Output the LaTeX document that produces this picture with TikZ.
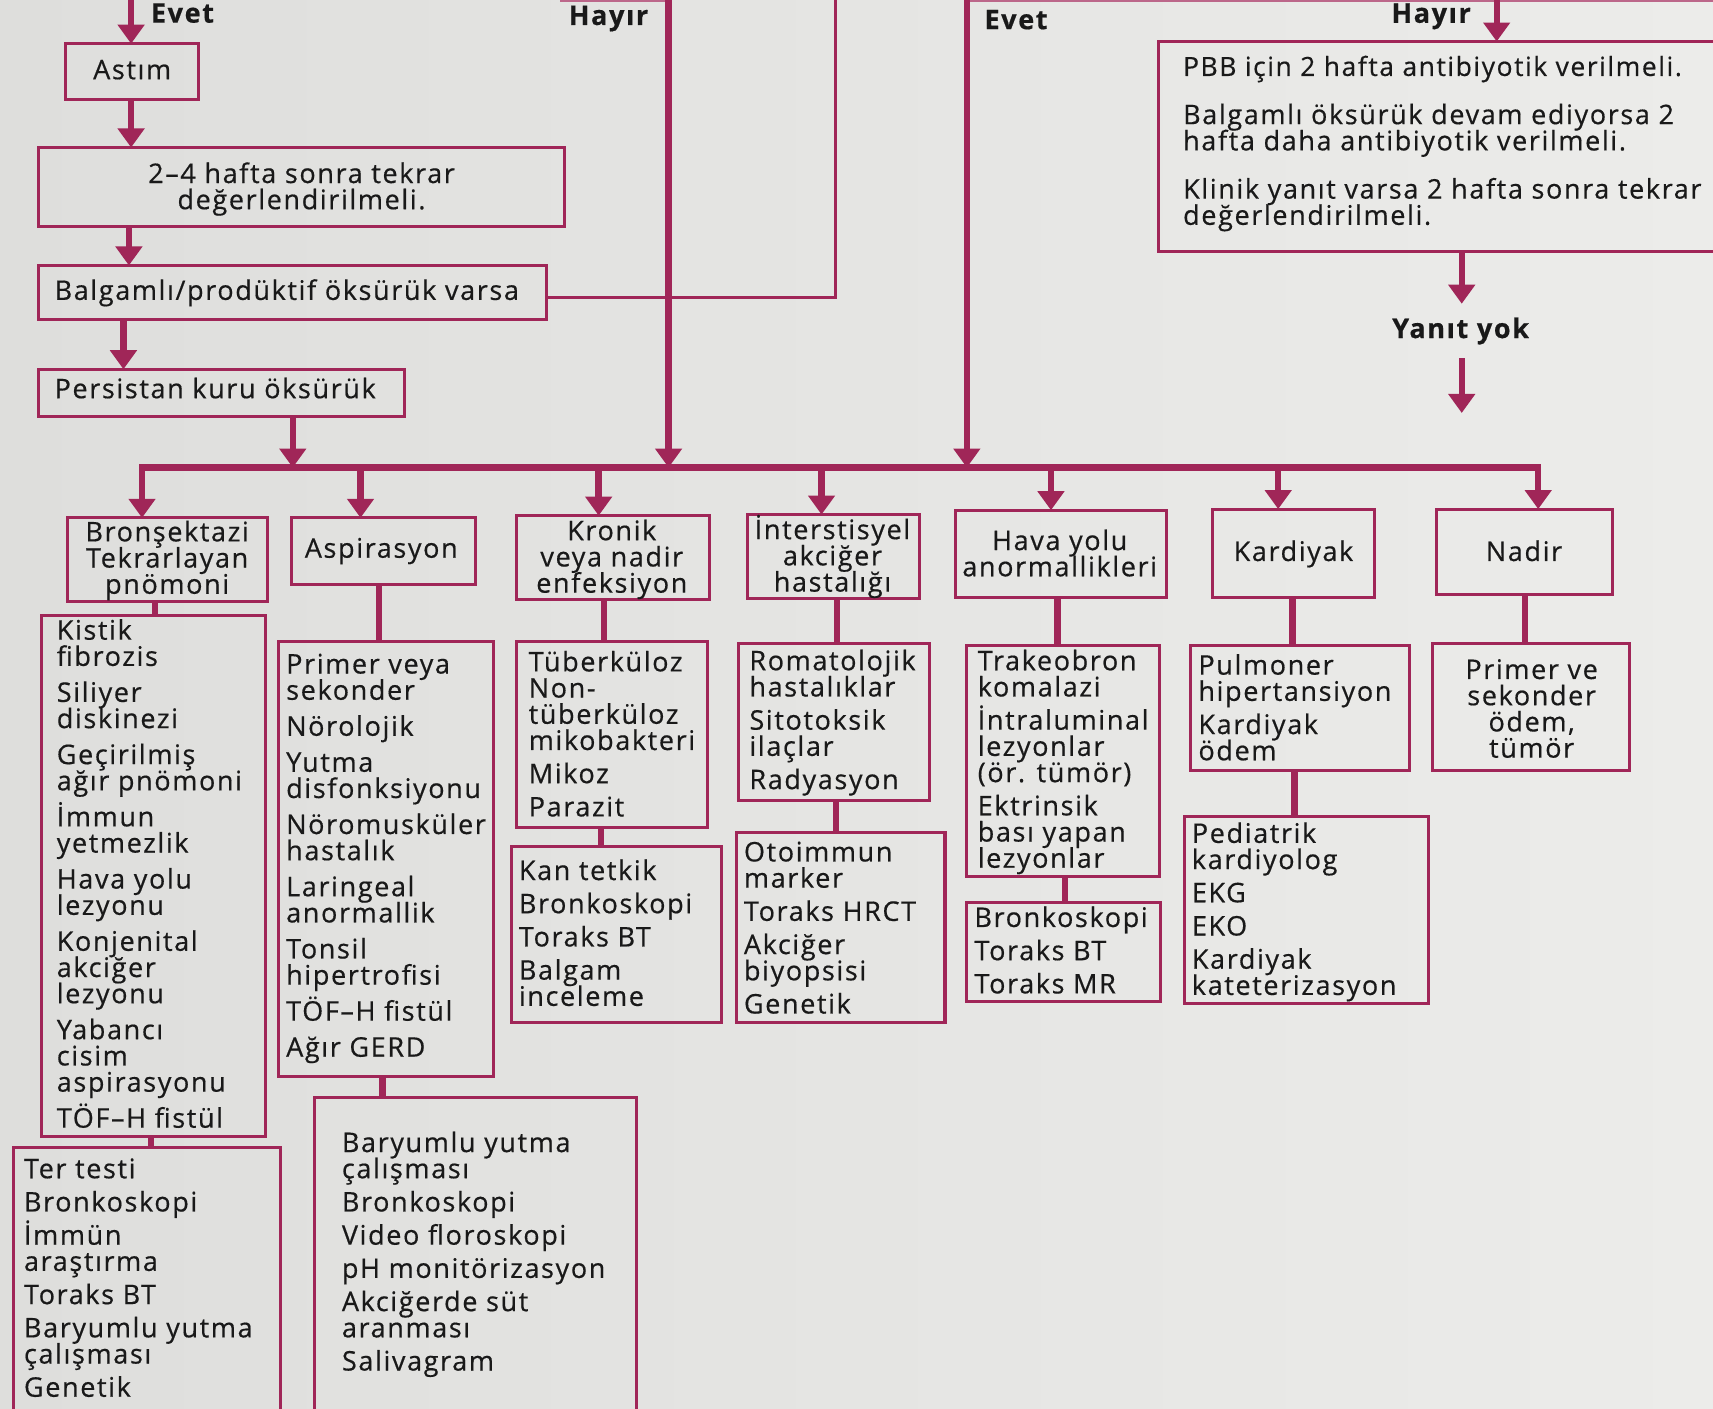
\documentclass[tikz,border=0pt]{standalone}
\usepackage{fontspec}
\setmainfont{Open Sans}[LetterSpace=6, FakeBold=0.5]
\usetikzlibrary{arrows.meta}
\definecolor{crim}{RGB}{160,38,88}
\definecolor{ink}{RGB}{25,25,25}
\definecolor{bgl}{RGB}{222,222,220}
\definecolor{bgr}{RGB}{236,236,234}
\def\PX{0.546pt}
\newcommand\bodyfs{\fontsize{13.5pt}{13.1pt}\selectfont\lineskiplimit=-100pt\relax}
\newcommand\mystrut{\rule{0pt}{13pt}}
\newcommand\GA{\\[4.9pt]}
\newcommand\GB{\\[3.5pt]}
\tikzset{
  bxs/.style={draw=crim, line width=1.5pt, inner sep=0pt, outer sep=0pt},
  txt/.style={inner sep=0pt, outer sep=0pt, align=left, text=ink, font=\bodyfs},
  conn/.style={draw=crim, line width=3.2pt},
  arr/.style={conn, -{Triangle[width=13pt,length=9.5pt]}},
  thinl/.style={draw=crim, line width=1.5pt},
  lbl/.style={inner sep=0pt, text=ink, font=\fontsize{13.5pt}{14pt}\selectfont\bfseries},
}
\newcommand\BoxAt[5]{\node[bxs, minimum width={(#4-#2)*\PX}, minimum height={(#5-#3)*\PX}] (#1) at ({(#2+#4)/2},{(#3+#5)/2}) {};}
\newcommand\TextL[4]{\node[txt, anchor=north west] (#1) at (#2,{#3-16.3}) {\mystrut#4};}
\newcommand\TextC[4]{\node[txt, align=center, anchor=north] (#1) at (#2,{#3-16.3}) {\mystrut#4};}
\begin{document}
\begin{tikzpicture}[x=\PX,y=-\PX]
\shade[left color=bgl,right color=bgr] (0,0) rectangle (1568,1289);
\useasboundingbox (0,0) rectangle (1568,1289);
\clip (0,0) rectangle (1568,1289);

% faint top edges
\coordinate (tl1) at (513,1); \coordinate (tl2) at (612,1);
\coordinate (tr1) at (885,1); \coordinate (tr2) at (1600,1);
\draw[crim!70, line width=1.2pt] (tl1) -- (tl2);
\draw[crim!70, line width=1.2pt] (tr1) -- (tr2);

% left chain
\BoxAt{astim}{60}{40}{182}{91}
\TextC{astimt}{121}{65}{Astım}
\BoxAt{tekrar}{35}{135}{517}{207}
\TextC{tekrart}{276}{160}{2–4 hafta sonra tekrar\\değerlendirilmeli.}
\BoxAt{balg}{35}{243}{500}{292}
\TextL{balgt}{50}{267}{Balgamlı/prodüktif öksürük varsa}
\BoxAt{pers}{35}{338}{370}{381}
\TextL{perst}{50}{357}{Persistan kuru öksürük}

% right top box
\BoxAt{pbb}{1060}{38}{1610}{230}
\TextL{pbbt}{1083}{62}{\fontsize{13.2pt}{13.6pt}\selectfont PBB için 2 hafta antibiyotik verilmeli.\\[11pt]Balgamlı öksürük devam ediyorsa 2\\hafta daha antibiyotik verilmeli.\\[11pt]Klinik yanıt varsa 2 hafta sonra tekrar\\değerlendirilmeli.}

% labels
\node[lbl] (evet1) at (167,12) {Evet};
\node[lbl] (hayir1) at (557,17) {Hayır};
\node[lbl] (evet2) at (930,18) {Evet};
\node[lbl] (hayir2) at (1310,15) {Hayır};
\node[lbl] (yanit) at (1337,303) {Yanıt yok};

% incoming lines from above
\coordinate (in1) at (120,-10);
\coordinate (in2) at (612,-10);
\coordinate (in3) at (765,-10);
\coordinate (in4) at (885,-10);
\coordinate (in5) at (1370,-10);

\draw[arr] (in1) -- (in1 |- astim.north);
\draw[arr] (120,0 |- astim.south) -- (120,0 |- tekrar.north);
\draw[arr] (118,0 |- tekrar.south) -- (118,0 |- balg.north);
\draw[arr] (113,0 |- balg.south) -- (113,0 |- pers.north);
\draw[thinl] ([yshift=-2.5pt]balg.east) -| (in3);

% bus
\coordinate (b1) at (130,428); \coordinate (b2) at (330,428);
\coordinate (b3) at (548,428); \coordinate (b4) at (752,428);
\coordinate (b5) at (962,428); \coordinate (b6) at (1170,428);
\coordinate (b7) at (1408,428);
\coordinate (bp) at (268,428); \coordinate (bh) at (612,428); \coordinate (be) at (885,428);
\draw[conn, line cap=rect] (b1) -- (b7);
\draw[arr] (268,0 |- pers.south) -- (bp);
\draw[arr] (in2) -- (bh);
\draw[arr] (in4) -- (be);

% right flow
\coordinate (yt) at (1338,278);
\coordinate (ys) at (1338,328);
\coordinate (ye) at (1338,378);
\draw[arr] (in5) -- (in5 |- pbb.north);
\draw[arr] (1338,0 |- pbb.south) -- (yt);
\draw[arr] (ys) -- (ye);

% categories
\BoxAt{bron}{62}{474}{245}{551}
\TextC{bront}{153}{488}{Bronşektazi\\Tekrarlayan\\pnömoni}
\BoxAt{asp}{267}{474}{435}{535}
\TextC{aspt}{349}{503}{Aspirasyon}
\BoxAt{kron}{473}{472}{649}{549}
\TextC{kront}{560}{487}{Kronik\\veya nadir\\enfeksiyon}
\BoxAt{inter}{684}{471}{842}{548}
\TextC{intert}{762}{486}{İnterstisyel\\akciğer\\hastalığı}
\BoxAt{hava}{875}{467}{1068}{547}
\TextC{havat}{970}{496}{Hava yolu\\anormallikleri}
\BoxAt{kard}{1110}{466}{1258}{547}
\TextC{kardt}{1184}{506}{Kardiyak}
\BoxAt{nadir}{1315}{466}{1476}{544}
\TextC{nadirt}{1395}{506}{Nadir}

\draw[arr] (b1) -- (b1 |- bron.north);
\draw[arr] (b2) -- (b2 |- asp.north);
\draw[arr] (b3) -- (b3 |- kron.north);
\draw[arr] (b4) -- (b4 |- inter.north);
\draw[arr] (b5) -- (b5 |- hava.north);
\draw[arr] (b6) -- (b6 |- kard.north);
\draw[arr] (b7) -- (b7 |- nadir.north);

% column 1
\BoxAt{la}{38}{563}{243}{1040}
\TextL{lat}{52}{578}{Kistik\\fibrozis\GA Siliyer\\diskinezi\GA Geçirilmiş\\ağır pnömoni\GA İmmun\\yetmezlik\GA Hava yolu\\lezyonu\GA Konjenital\\akciğer\\lezyonu\GA Yabancı\\cisim\\aspirasyonu\GA TÖF–H fistül}
\BoxAt{ta}{12}{1050}{257}{1310}
\TextL{tat}{22}{1071}{Ter testi\GB Bronkoskopi\GB İmmün\\araştırma\GB Toraks BT\GB Baryumlu yutma\\çalışması\GB Genetik}
\draw[conn] (142,0 |- bron.south) -- (142,0 |- la.north);
\draw[conn] (138,0 |- la.south) -- (138,0 |- ta.north);

% column 2
\BoxAt{lb}{255}{587}{452}{985}
\TextL{lbt}{262}{609}{Primer veya\\sekonder\GA Nörolojik\GA Yutma\\disfonksiyonu\GA Nöromusküler\\hastalık\GA Laringeal\\anormallik\GA Tonsil\\hipertrofisi\GA TÖF–H fistül\GA Ağır GERD}
\BoxAt{tb}{288}{1005}{583}{1310}
\TextL{tbt}{313}{1047}{Baryumlu yutma\\çalışması\GB Bronkoskopi\GB Video floroskopi\GB pH monitörizasyon\GB Akciğerde süt\\aranması\GB Salivagram}
\draw[conn] (347,0 |- asp.south) -- (347,0 |- lb.north);
\draw[conn] (350,0 |- lb.south) -- (350,0 |- tb.north);

% column 3
\BoxAt{lc}{473}{587}{648}{757}
\TextL{lct}{484}{607}{Tüberküloz\\Non-\\tüberküloz\\mikobakteri\GB Mikoz\GB Parazit}
\BoxAt{tc}{468}{775}{660}{936}
\TextL{tct}{475}{798}{Kan tetkik\GB Bronkoskopi\GB Toraks BT\GB Balgam\\inceleme}
\draw[conn] (553,0 |- kron.south) -- (553,0 |- lc.north);
\draw[conn] (550,0 |- lc.south) -- (550,0 |- tc.north);

% column 4
\BoxAt{ld}{676}{589}{851}{733}
\TextL{ldt}{686}{606}{Romatolojik\\hastalıklar\GB Sitotoksik\\ilaçlar\GB Radyasyon}
\BoxAt{td}{674}{762}{865}{936}
\TextL{tdt}{681}{781}{Otoimmun\\marker\GB Toraks HRCT\GB Akciğer\\biyopsisi\GB Genetik}
\draw[conn] (766,0 |- inter.south) -- (766,0 |- ld.north);
\draw[conn] (765,0 |- ld.south) -- (765,0 |- td.north);

% column 5
\BoxAt{le}{885}{591}{1061}{802}
\TextL{let}{895}{606}{Trakeobron\\komalazi\GB İntraluminal\\lezyonlar\\(ör. tümör)\GB Ektrinsik\\bası yapan\\lezyonlar}
\BoxAt{te}{885}{826}{1062}{917}
\TextL{tet}{892}{841}{Bronkoskopi\GB Toraks BT\GB Toraks MR}
\draw[conn] (968,0 |- hava.south) -- (968,0 |- le.north);
\draw[conn] (975,0 |- le.south) -- (975,0 |- te.north);

% column 6
\BoxAt{lf}{1090}{591}{1290}{705}
\TextL{lft}{1097}{610}{Pulmoner\\hipertansiyon\GB Kardiyak\\ödem}
\BoxAt{tf}{1084}{747}{1308}{919}
\TextL{tft}{1091}{764}{Pediatrik\\kardiyolog\GB EKG\GB EKO\GB Kardiyak\\kateterizasyon}
\draw[conn] (1183,0 |- kard.south) -- (1183,0 |- lf.north);
\draw[conn] (1185,0 |- lf.south) -- (1185,0 |- tf.north);

% column 7
\BoxAt{lg}{1311}{589}{1492}{705}
\TextC{lgt}{1402}{614}{Primer ve\\sekonder\\ödem,\\tümör}
\draw[conn] (1396,0 |- nadir.south) -- (1396,0 |- lg.north);
\end{tikzpicture}
\end{document}
